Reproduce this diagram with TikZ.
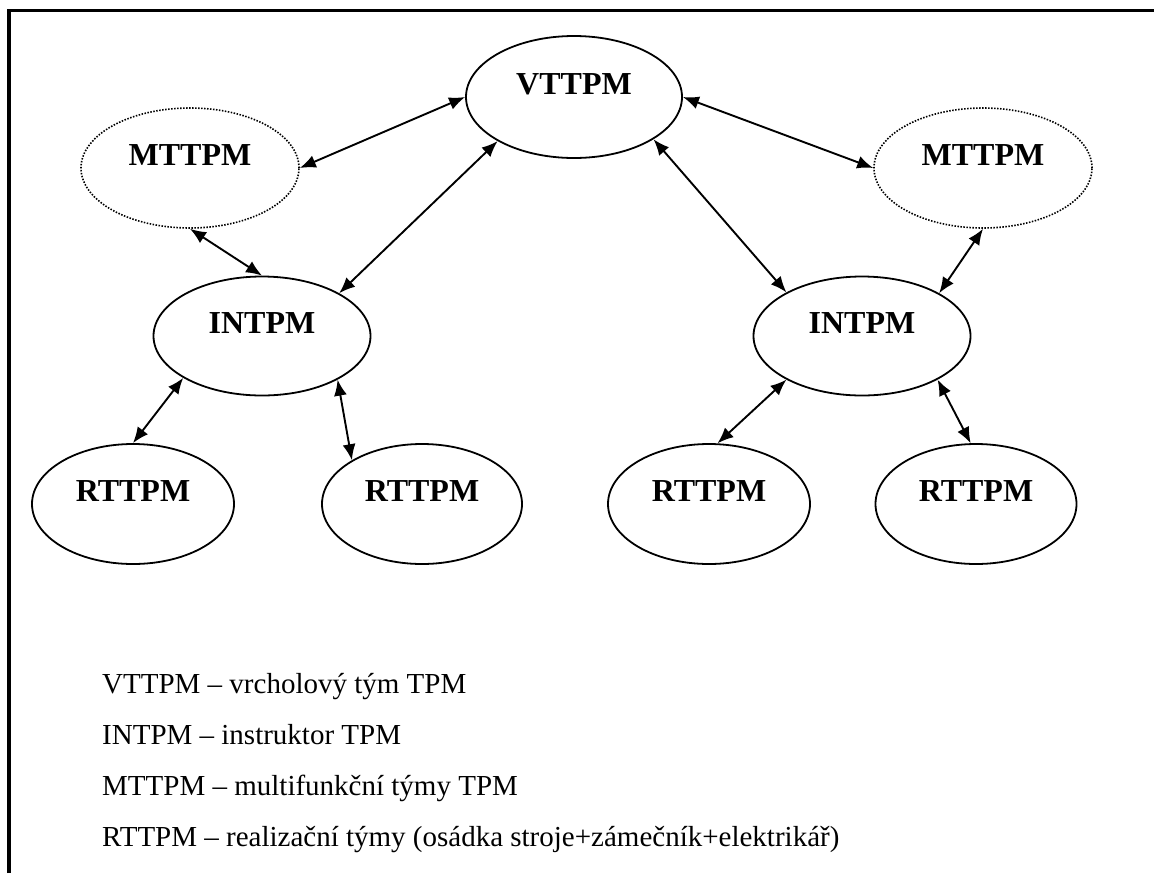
\documentclass[tikz,border=0pt]{standalone}
\usepackage{fontspec}
\setmainfont{Liberation Serif}
\usetikzlibrary{shapes.geometric,arrows.meta}
\begin{document}
\begin{tikzpicture}[x=1pt,y=-1pt,
  teambox/.style={ellipse,draw,line width=1.8pt,inner sep=0pt,
    font=\fontsize{32}{36}\selectfont\bfseries,text height=24pt,text depth=30pt},
  dotbox/.style={teambox,dash pattern=on 1.5pt off 1.5pt,line width=1.6pt},
  link/.style={line width=1.9pt,{Latex[length=16pt,width=13pt]}-{Latex[length=16pt,width=13pt]}},
  legend/.style={anchor=base west,inner sep=0pt,font=\fontsize{29}{33}\selectfont}]
\useasboundingbox (0,0) rectangle (1154,873);
\draw[line width=3.2pt] (9,873) -- (9,10.5) -- (1154,10.5);
\node[teambox,minimum width=216pt,minimum height=122pt] (vt) at (574,97) {VTTPM};
\node[dotbox,minimum width=218pt,minimum height=120pt] (ml) at (190,168) {MTTPM};
\node[dotbox,minimum width=218pt,minimum height=120pt] (mr) at (983,168) {MTTPM};
\node[teambox,minimum width=217pt,minimum height=119pt] (il) at (262,336) {INTPM};
\node[teambox,minimum width=217pt,minimum height=119pt] (ir) at (862,336) {INTPM};
\node[teambox,minimum width=202pt,minimum height=120pt] (r1) at (133,504) {RTTPM};
\node[teambox,minimum width=200pt,minimum height=120pt] (r2) at (422,504) {RTTPM};
\node[teambox,minimum width=202pt,minimum height=120pt] (r3) at (709,504) {RTTPM};
\node[teambox,minimum width=201pt,minimum height=120pt] (r4) at (976,504) {RTTPM};
\draw[link] (vt.west) -- (ml.east);
\draw[link] (vt.east) -- (mr.west);
\draw[link] (vt.210.8) -- (il.29.4);
\draw[link] (vt.332) -- (ir.150.3);
\draw[link] (ml.south) -- (il.north);
\draw[link] (mr.south) -- (ir.29.4);
\draw[link] (il.208) -- (r1.north);
\draw[link] (il.330) -- (r2.148);
\draw[link] (ir.210) -- (r3.82);
\draw[link] (ir.330) -- (r4.95);
\node[legend] (l1) at (102,693) {VTTPM – vrcholový tým TPM};
\node[legend] (l2) at (102,744) {INTPM – instruktor TPM};
\node[legend] (l3) at (102,795) {MTTPM – multifunkční týmy TPM};
\node[legend] (l4) at (102,846) {RTTPM – realizační týmy (osádka stroje+zámečník+elektrikář)};
\end{tikzpicture}
\end{document}
